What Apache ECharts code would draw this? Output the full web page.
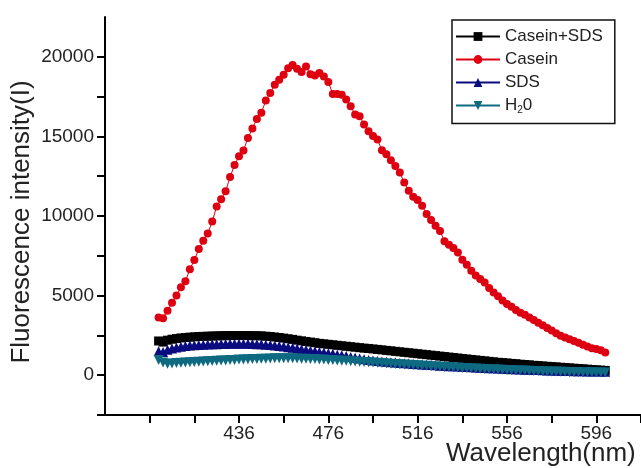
<!DOCTYPE html>
<html>
<head>
<meta charset="utf-8">
<script src="https://cdn.jsdelivr.net/npm/echarts@6/dist/echarts.min.js"></script>
<style>
html,body{margin:0;padding:0;background:#fff;}
#chart{width:641px;height:468px;}
</style>
</head>
<body>
<div id="chart"></div>
<script>
// Wavelengths (nm)
var wavelengths = [
400,402,404,406,408,410,412,414,416,418,
420,422,424,426,428,430,432,434,436,438,
440,442,444,446,448,450,452,454,456,458,
460,462,464,466,468,470,472,474,476,478,
480,482,484,486,488,490,492,494,496,498,
500,502,504,506,508,510,512,514,516,518,
520,522,524,526,528,530,532,534,536,538,
540,542,544,546,548,550,552,554,556,558,
560,562,564,566,568,570,572,574,576,578,
580,582,584,586,588,590,592,594,596,598,
600];

var caseinSDS = [
2150,2080,2200,2260,2300,2340,2370,2390,2410,2430,
2440,2450,2460,2470,2480,2480,2490,2490,2490,2490,
2490,2480,2480,2470,2450,2430,2400,2370,2330,2290,
2250,2200,2160,2120,2080,2040,2000,1970,1940,1910,
1880,1850,1820,1790,1760,1730,1700,1680,1650,1620,
1590,1560,1530,1500,1470,1440,1410,1380,1350,1320,
1290,1260,1230,1200,1170,1140,1110,1080,1050,1020,
990,960,930,900,870,840,810,790,770,740,
720,690,670,650,620,600,580,560,540,520,
500,480,460,440,420,400,380,360,340,320,
300];

var casein = [
3620,3580,4050,4550,5000,5520,5900,6650,7230,7920,
8450,8900,9650,10600,11050,11550,12450,13200,13750,14120,
14900,15500,16100,16480,17250,17730,18250,18560,18870,19280,
19480,19250,19050,19390,18910,18830,18980,18770,18410,17660,
17660,17620,17310,16890,16380,16270,15750,15330,15020,14810,
14130,13880,13500,13140,12730,12100,11580,11210,11000,10640,
10130,9750,9390,9050,8420,8200,7990,7700,7250,6930,
6560,6270,6040,5820,5480,5200,4960,4700,4480,4300,
4100,3930,3800,3630,3470,3290,3130,2960,2800,2630,
2480,2370,2260,2150,2040,1920,1810,1700,1640,1560,
1420];

var sds = [
1500,1450,1600,1680,1740,1790,1830,1860,1880,1900,
1920,1930,1940,1950,1960,1960,1970,1970,1970,1970,
1970,1960,1950,1940,1920,1900,1870,1840,1800,1760,
1720,1680,1630,1590,1540,1500,1460,1420,1380,1340,
1290,1250,1200,1150,1100,1050,1000,960,920,890,
860,840,810,790,770,750,730,710,690,670,
660,640,620,600,590,570,560,540,530,510,
500,480,470,460,440,430,420,410,390,380,
370,360,350,340,330,320,310,300,290,285,
280,270,260,255,250,245,240,235,230,225,
220];

var water = [
950,800,720,740,760,780,800,810,830,840,
860,870,890,900,920,930,950,960,980,990,
1000,1010,1020,1030,1040,1050,1060,1060,1060,1060,
1060,1050,1040,1030,1020,1010,990,980,960,950,
930,910,900,880,860,850,830,810,790,780,
760,740,720,710,690,670,650,640,620,600,
590,570,550,540,520,510,490,480,460,450,
430,420,410,390,380,370,360,350,330,320,
310,300,290,280,270,260,250,240,235,230,
220,210,205,200,195,190,185,180,175,170,
165];

var seriesNames = ['Casein+SDS', 'Casein', 'SDS', 'H20'];

// Axis ticks and labels
var xTickValues = [396,416,436,456,476,496,516,536,556,576,596,616];
var xLabelValues = [436,476,516,556,596];
var yTickValues = [-2500,0,2500,5000,7500,10000,12500,15000,17500,20000];
var yLabelValues = [0,5000,10000,15000,20000];

function pairs(vals) {
  return wavelengths.map(function (w, i) { return [w, vals[i]]; });
}

var FONT = '"Liberation Sans", Arial, sans-serif';
var chart = echarts.init(document.getElementById('chart'), null, {renderer: 'canvas'});

function mkSeries(name, vals, color, symbol, size, rotate) {
  return {
    name: name,
    type: 'line',
    data: pairs(vals),
    symbol: symbol,
    symbolSize: size,
    symbolRotate: rotate || 0,
    showAllSymbol: true,
    lineStyle: {color: color, width: 1},
    itemStyle: {color: color, borderWidth: 0},
    emphasis: {disabled: true}
  };
}

chart.setOption({
  animation: false,
  backgroundColor: '#ffffff',
  grid: {left: 105, right: 0, top: 17, bottom: 53, containLabel: false},
  xAxis: {
    type: 'value',
    min: 376, max: 616,
    axisLine: {show: true, onZero: false, lineStyle: {color: '#000', width: 2}},
    axisTick: {show: true, length: 8, lineStyle: {color: '#000', width: 2}, customValues: xTickValues},
    axisLabel: {show: true, margin: 9, color: '#222', fontFamily: FONT, fontSize: 19,
      customValues: xLabelValues, showMinLabel: true, showMaxLabel: true, hideOverlap: false,
      formatter: function (v) { return String(v); }},
    splitLine: {show: false}
  },
  yAxis: {
    type: 'value',
    min: -2500, max: 22500,
    axisLine: {show: true, onZero: false, lineStyle: {color: '#000', width: 2}},
    axisTick: {show: true, length: 8, lineStyle: {color: '#000', width: 2}, customValues: yTickValues},
    axisLabel: {show: true, margin: 11, color: '#222', fontFamily: FONT, fontSize: 19,
      customValues: yLabelValues, showMinLabel: true, showMaxLabel: true,
      formatter: function (v) { return String(v); }},
    splitLine: {show: false}
  },
  legend: {
    orient: 'vertical',
    left: 452, top: 20,
    width: 163,
    padding: [8, 12, 8, 3],
    itemGap: 6,
    itemWidth: 44,
    itemHeight: 11,
    borderColor: '#111',
    borderWidth: 1.5,
    backgroundColor: '#fff',
    data: seriesNames,
    textStyle: {
      color: '#222', fontFamily: FONT, fontSize: 17,
      rich: {
        n: {fontFamily: FONT, fontSize: 17, color: '#222'},
        s: {fontFamily: FONT, fontSize: 10, color: '#222', padding: [10, 0, 0, 0]}
      }
    },
    formatter: function (name) {
      if (name === 'H20') return '{n|H}{s|2}{n|0}';
      return name;
    }
  },
  graphic: [
    {type: 'text', left: 446, top: 441,
      style: {text: 'Wavelength(nm)', fontFamily: FONT, fontSize: 26, fill: '#222'}},
    {type: 'text', x: 22, y: 222, rotation: Math.PI / 2,
      style: {text: 'Fluorescence intensity(I)', fontFamily: FONT, fontSize: 26, fill: '#222',
        align: 'center', verticalAlign: 'middle'}}
  ],
  series: [
    mkSeries(seriesNames[0], caseinSDS, '#000000', 'rect', 9),
    mkSeries(seriesNames[1], casein, '#dd0010', 'circle', 8),
    mkSeries(seriesNames[2], sds, '#0b0b80', 'triangle', 10),
    mkSeries(seriesNames[3], water, '#0e6a80', 'triangle', 10, 180)
  ]
});
</script>
</body>
</html>
